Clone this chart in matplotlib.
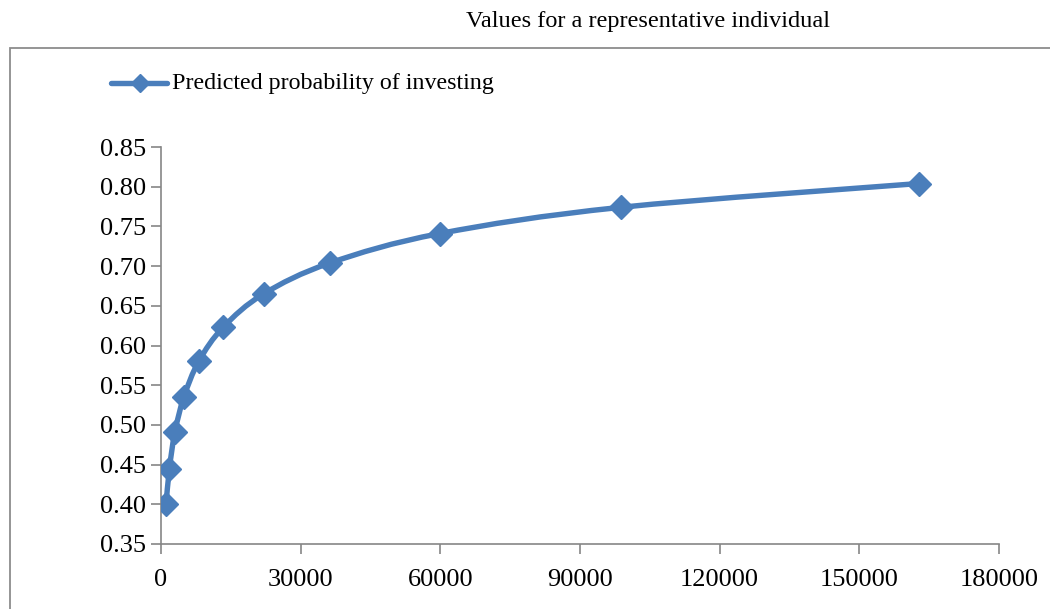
import numpy as np
import matplotlib
matplotlib.use("Agg")
import matplotlib.pyplot as plt
from matplotlib.path import Path
from matplotlib.patches import PathPatch, Rectangle
from matplotlib.lines import Line2D

plt.rcParams["font.family"] = ["Liberation Serif", "DejaVu Serif"]

income = [1097, 1808, 2981, 4915, 8103, 13360, 22026, 36316, 59874, 98715, 162755]
prob = [0.401, 0.445, 0.491, 0.535, 0.580, 0.623, 0.665, 0.704, 0.741, 0.774, 0.804]
x_ticks = [0, 30000, 60000, 90000, 120000, 150000, 180000]
y_ticks = [0.35, 0.40, 0.45, 0.50, 0.55, 0.60, 0.65, 0.70, 0.75, 0.80, 0.85]

blue = "#4A7EBB"

fig = plt.figure(figsize=(10.5, 6.09), dpi=100)
ax = fig.add_axes([161 / 1050, 1 - 544 / 609, 838 / 1050, 397 / 609])

# smoothed line like excel: bezier through the points
pts = np.column_stack([income, prob])
verts = [pts[0]]
codes = [Path.MOVETO]
n = len(pts)
for i in range(n - 1):
    p0 = pts[i - 1] if i > 0 else pts[i]
    p1 = pts[i]
    p2 = pts[i + 1]
    p3 = pts[i + 2] if i + 2 < n else pts[i + 1]
    c1 = p1 + (p2 - p0) / 6
    c2 = p2 - (p3 - p1) / 6
    verts += [c1, c2, p2]
    codes += [Path.CURVE4] * 3
ax.add_patch(PathPatch(Path(verts, codes), facecolor="none", edgecolor=blue,
                       lw=3.9, capstyle="round", joinstyle="round", zorder=2))
ax.plot(income, prob, linestyle="none", marker="D", markersize=12.5,
        color=blue, zorder=3)

ax.set_xlim(0, 180000)
ax.set_ylim(0.35, 0.85)
ax.set_xticks(x_ticks)
ax.set_xticklabels([str(t) for t in x_ticks])
ax.set_yticks(y_ticks)
ax.set_yticklabels(["%.2f" % t for t in y_ticks])
for s in ["top", "right"]:
    ax.spines[s].set_visible(False)
for s in ["left", "bottom"]:
    ax.spines[s].set_color("#868686")
    ax.spines[s].set_linewidth(1.2)
ax.tick_params(direction="out", length=7, width=1.2, color="#868686",
               labelsize=19, labelcolor="black", pad=4)
ax.tick_params(axis="x", pad=11)

# chart border
fig.patches.append(Rectangle((10 / 1050, -0.1), 1.2, 0.1 + 1 - 48 / 609,
                             transform=fig.transFigure, fill=False,
                             edgecolor="#8c8c8c", lw=1.3, zorder=0))

fig.text(648 / 1050, 1 - 22 / 609, "Values for a representative individual",
         ha="center", va="center", fontsize=17.5)

leg_line = Line2D([111 / 1050, 167 / 1050], [1 - 83 / 609] * 2, transform=fig.transFigure,
                  color=blue, lw=3.9, solid_capstyle="round")
leg_mark = Line2D([140 / 1050], [1 - 83 / 609], transform=fig.transFigure,
                  color=blue, marker="D", markersize=9, linestyle="none")
fig.lines.extend([leg_line, leg_mark])
fig.text(172 / 1050, 1 - 83 / 609, "Predicted probability of investing",
         ha="left", va="center", fontsize=17.3)

fig.savefig("out.png", dpi=100)
